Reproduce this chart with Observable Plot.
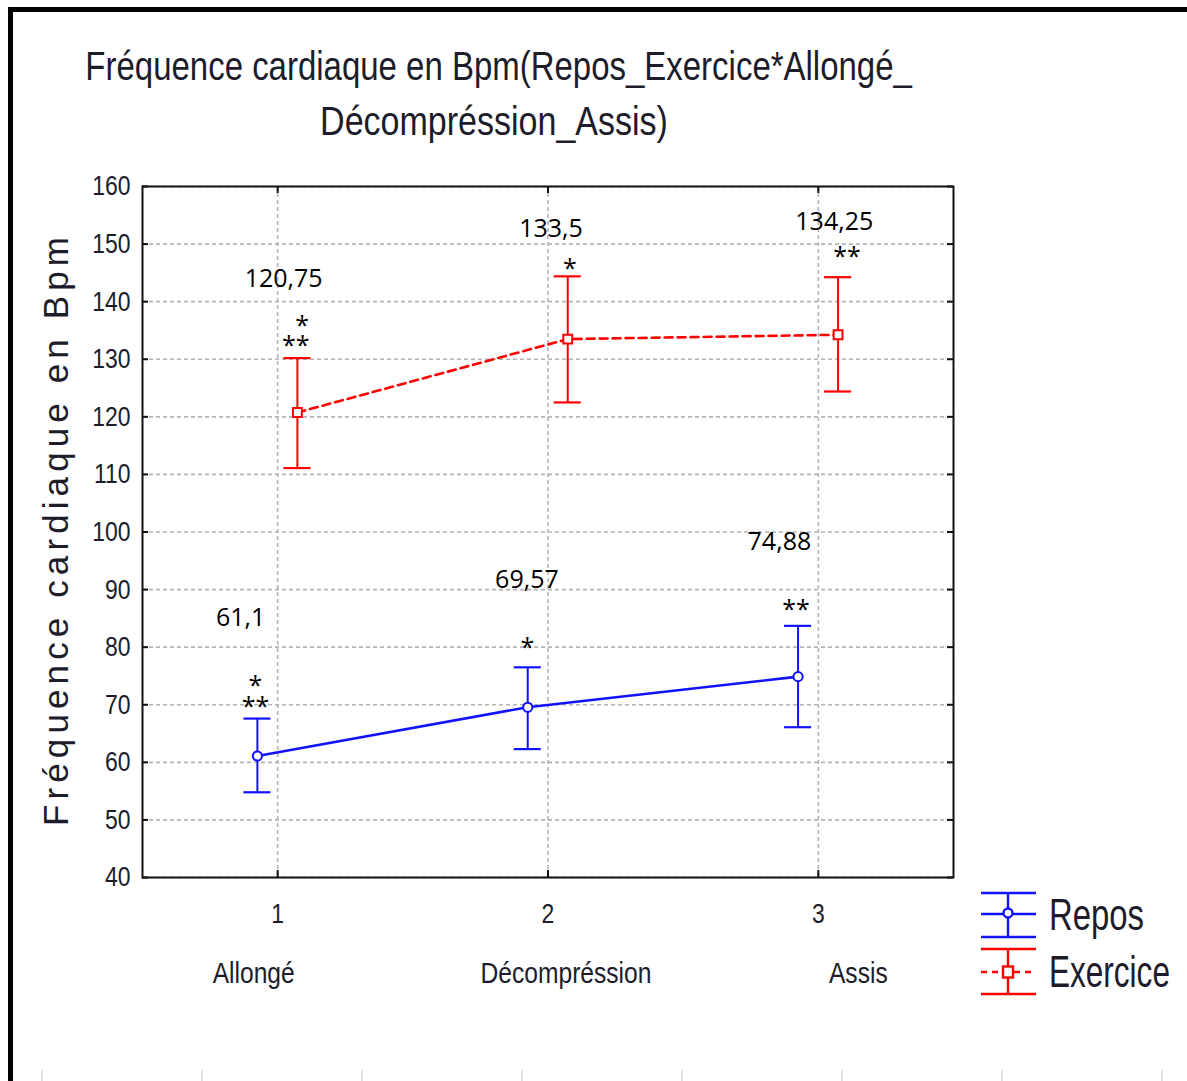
<!DOCTYPE html>
<html lang="fr"><head><meta charset="utf-8">
<script src="https://cdn.jsdelivr.net/npm/d3@7"></script>
<script src="https://cdn.jsdelivr.net/npm/@observablehq/plot@0.6"></script>
<style>
html,body{margin:0;padding:0;background:#fff;}
#page{position:relative;width:1187px;height:1081px;overflow:hidden;background:#fff;}
#chart{position:absolute;left:0;top:160px;}
#overlay{position:absolute;left:0;top:0;pointer-events:none;}
</style></head><body>
<div id="page"><div id="chart"></div><svg id="overlay" width="1187" height="1081"></svg></div>
<script>
// ---------- data ----------
const titleLines = ["Fréquence cardiaque en Bpm(Repos_Exercice*Allongé_", "Décompréssion_Assis)"];
const yLabel = "Fréquence cardiaque en Bpm";
const categories = ["Allongé", "Décompréssion", "Assis"];
const xTicks = [1, 2, 3];
const yTicks = [40, 50, 60, 70, 80, 90, 100, 110, 120, 130, 140, 150, 160];
const seriesNames = ["Repos", "Exercice"];
const reposMean = [61.1, 69.57, 74.88];
const reposLow = [54.8, 62.3, 66.1];
const reposHigh = [67.6, 76.5, 83.7];
const exerciceMean = [120.75, 133.5, 134.25];
const exerciceLow = [111.1, 122.5, 124.4];
const exerciceHigh = [130.2, 144.4, 144.25];
// annotation texts and their anchor points (data coordinates)
const valueLabelText = ["61,1", "69,57", "74,88", "120,75", "133,5", "134,25"];
const valueLabelX = [0.863, 1.922, 2.856, 1.022, 2.011, 3.059];
const valueLabelY = [85.0, 91.6, 98.2, 143.9, 152.7, 153.9];
const starText = ["*\n**", "*", "**", "\u2002*\n**", "*", "**"];
const starX = [0.918, 1.924, 2.917, 1.067, 2.081, 3.106];
const starY = [72.2, 80.7, 87.2, 134.8, 146.5, 148.5];

// ---------- styling ----------
const FONT = "'Liberation Sans',Arial,sans-serif";
const ANNOT = "'Open Sans','Noto Sans',sans-serif";
const BLUE = "#1212ff", RED = "#ff0000", GRID = "#b4b4b4", TXT = "#1c1c2a";
const offset = {Repos: -0.075, Exercice: 0.073};
const cap = 0.05;
const W = 1187, H = 921, ML = 142, MR = 234, MT = 26, MB = 204;
const FW = W - ML - MR, FH = H - MT - MB;

const makeRows = (name, mean, lo, hi) => categories.map((c, i) => ({
  series: name, cat: c, x: xTicks[i] + offset[name], mean: mean[i], lo: lo[i], hi: hi[i]
}));
const repos = makeRows("Repos", reposMean, reposLow, reposHigh);
const exer = makeRows("Exercice", exerciceMean, exerciceLow, exerciceHigh);
const valueLabels = valueLabelText.map((t, i) => ({t, x: valueLabelX[i], y: valueLabelY[i]}));
const stars = starText.map((t, i) => ({t, x: starX[i], y: starY[i]}));

const errMarks = (data, color) => [
  Plot.ruleX(data, {x: "x", y1: "lo", y2: "hi", stroke: color, strokeWidth: 2}),
  Plot.ruleY(data, {y: "hi", x1: d => d.x - cap, x2: d => d.x + cap, stroke: color, strokeWidth: 2.2}),
  Plot.ruleY(data, {y: "lo", x1: d => d.x - cap, x2: d => d.x + cap, stroke: color, strokeWidth: 2.2})
];

const catDx = [-24, 18, 40];

const chart = Plot.plot({
  width: W, height: H,
  marginLeft: ML, marginRight: MR, marginTop: MT, marginBottom: MB,
  x: {domain: [0.5, 3.5], axis: null},
  y: {domain: [40, 160], axis: null},
  style: {background: "#fff", overflow: "visible"},
  marks: [
    Plot.gridY(yTicks, {stroke: GRID, strokeOpacity: 1, strokeWidth: 1.6, strokeDasharray: "4,3"}),
    Plot.gridX(xTicks, {stroke: GRID, strokeOpacity: 1, strokeWidth: 1.6, strokeDasharray: "4,3"}),
    // inward ticks on all four sides
    Plot.ruleY(yTicks, {insetRight: FW - 6, stroke: "#111", strokeWidth: 2}),
    Plot.ruleY(yTicks, {insetLeft: FW - 6, stroke: "#111", strokeWidth: 2}),
    Plot.ruleX(xTicks, {insetTop: FH - 7, stroke: "#111", strokeWidth: 2}),
    Plot.ruleX(xTicks, {insetBottom: FH - 7, stroke: "#111", strokeWidth: 2}),
    Plot.frame({stroke: "#111", strokeWidth: 2}),
    Plot.axisY({ticks: yTicks, tickSize: 0, tickPadding: 12, fontSize: 28, fontFamily: FONT, fill: TXT, label: null,
      className: "sq-end"}),
    Plot.axisX({ticks: xTicks, tickFormat: d3.format("d"), tickSize: 0, tickPadding: 26, fontSize: 28, fontFamily: FONT,
      fill: TXT, label: null, className: "sq-mid"}),
    ...categories.map((c, i) => Plot.axisX({ticks: [xTicks[i]], tickFormat: () => c, tickSize: 0, tickPadding: 84,
      dx: catDx[i], fontSize: 30, fontFamily: FONT, fill: TXT, label: null, className: "sq-mid"})),
    // series lines
    Plot.line(repos, {x: "x", y: "mean", stroke: BLUE, strokeWidth: 2.6}),
    Plot.line(exer, {x: "x", y: "mean", stroke: RED, strokeWidth: 2.6, strokeDasharray: "8,5"}),
    ...errMarks(repos, BLUE),
    ...errMarks(exer, RED),
    Plot.dot(repos, {x: "x", y: "mean", r: 4.6, stroke: BLUE, fill: "#fff", strokeWidth: 2}),
    Plot.dot(exer, {x: "x", y: "mean", r: 5, symbol: "square", stroke: RED, fill: "#fff", strokeWidth: 2}),
    // annotations
    Plot.text(valueLabels, {x: "x", y: "y", text: "t", fontSize: 25, fontFamily: ANNOT, fill: "#000"}),
    Plot.text(stars, {x: "x", y: "y", text: "t", dy: 6, fontSize: 25, lineHeight: 0.82, fontFamily: ANNOT, fill: "#000",
      letterSpacing: "2px"})
  ]
});
document.getElementById("chart").appendChild(chart);

// squeeze Arial-like text horizontally (around its anchor) to imitate the narrow font of the original
function squeeze(el, s, anchor) {
  const b = el.getBBox();
  const ax = anchor === "end" ? b.x + b.width : anchor === "middle" ? b.x + b.width / 2 : b.x;
  const prev = el.getAttribute("transform") || "";
  el.setAttribute("transform", `${prev} translate(${ax},0) scale(${s},1) translate(${-ax},0)`.trim());
}
d3.select(chart).selectAll(".sq-end text").each(function () { squeeze(this, 0.82, "end"); });
d3.select(chart).selectAll(".sq-mid text").each(function () { squeeze(this, 0.82, "middle"); });

// ---------- title, y label, legend, page frame ----------
const ov = d3.select("#overlay");
function fitText(sel, target, anchor) {
  const w = sel.node().getComputedTextLength();
  squeeze(sel.node(), target / w, anchor);
}
fitText(ov.append("text").attr("x", 498.5).attr("y", 80).attr("text-anchor", "middle")
  .attr("font-family", FONT).attr("font-size", 41).attr("fill", TXT).text(titleLines[0]), 827, "middle");
fitText(ov.append("text").attr("x", 494).attr("y", 135).attr("text-anchor", "middle")
  .attr("font-family", FONT).attr("font-size", 41).attr("fill", TXT).text(titleLines[1]), 348, "middle");
ov.append("text").attr("transform", "translate(68,531.5) rotate(-90)").attr("text-anchor", "middle")
  .attr("font-family", FONT).attr("font-size", 35).attr("fill", TXT)
  .attr("textLength", 589).attr("lengthAdjust", "spacing").text(yLabel);

// legend
const leg = ov.append("g");
const legendItems = [
  {name: seriesNames[0], color: BLUE, top: 893, mid: 914, bot: 937, dash: null, sym: "circle", tl: 95, base: 930},
  {name: seriesNames[1], color: RED, top: 949, mid: 972, bot: 994, dash: "6,5", sym: "square", tl: 121, base: 987}
];
legendItems.forEach(it => {
  const g = leg.append("g").attr("stroke", it.color).attr("stroke-width", 2.4);
  g.append("line").attr("x1", 981).attr("x2", 1036).attr("y1", it.top).attr("y2", it.top);
  g.append("line").attr("x1", 981).attr("x2", 1036).attr("y1", it.bot).attr("y2", it.bot);
  g.append("line").attr("x1", 981).attr("x2", 1036).attr("y1", it.mid).attr("y2", it.mid)
    .attr("stroke-dasharray", it.dash);
  g.append("line").attr("x1", 1008).attr("x2", 1008).attr("y1", it.top).attr("y2", it.bot);
  if (it.sym === "circle") g.append("circle").attr("cx", 1008).attr("cy", it.mid - 1).attr("r", 4.5).attr("fill", "#fff");
  else g.append("rect").attr("x", 1003).attr("y", it.mid - 5.5).attr("width", 10).attr("height", 11).attr("fill", "#fff");
  fitText(leg.append("text").attr("x", 1049).attr("y", it.base).attr("font-family", FONT).attr("font-size", 44)
    .attr("fill", TXT).text(it.name), it.tl, "start");
});

// page frame
ov.append("line").attr("x1", 8).attr("x2", 1187).attr("y1", 9.5).attr("y2", 9.5).attr("stroke", "#000").attr("stroke-width", 5);
ov.append("line").attr("x1", 10.5).attr("x2", 10.5).attr("y1", 7).attr("y2", 1081).attr("stroke", "#000").attr("stroke-width", 5);
[42, 202, 362, 522, 682, 842, 1002, 1162].forEach(x =>
  ov.append("line").attr("x1", x).attr("x2", x).attr("y1", 1070).attr("y2", 1081).attr("stroke", "#c4c4c4").attr("stroke-width", 1));
</script>
</body></html>
